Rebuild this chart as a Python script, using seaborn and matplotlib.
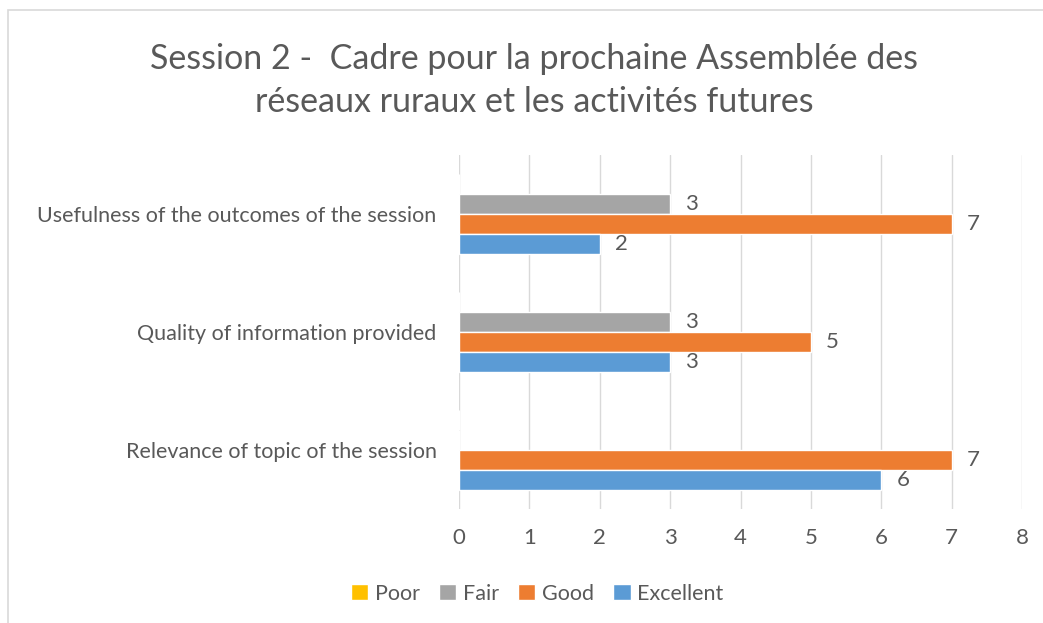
import numpy as np
import pandas as pd
import matplotlib
matplotlib.use("Agg")
import matplotlib.pyplot as plt
import seaborn as sns
from matplotlib.patches import Rectangle

# data
questions = ["Usefulness of the outcomes of the session",
             "Quality of information provided",
             "Relevance of topic of the session"]
ratings = ["Poor", "Fair", "Good", "Excellent"]
poor = [0, 0, 0]
fair = [3, 3, 0]
good = [7, 5, 7]
excellent = [2, 3, 6]
xticks = [0, 1, 2, 3, 4, 5, 6, 7, 8]

colors = {"Poor": "#FFC000", "Fair": "#A5A5A5", "Good": "#ED7D31", "Excellent": "#5B9BD5"}
text_col = "#595959"

rows = []
for series, vals in zip(ratings, [poor, fair, good, excellent]):
    for q, v in zip(questions, vals):
        rows.append({"question": q, "rating": series, "count": v})
df = pd.DataFrame(rows)

sns.set_theme(style="white")
plt.rcParams["font.family"] = ["Lato", "DejaVu Sans"]

fig = plt.figure(figsize=(10.43, 6.23), dpi=100)
ax = fig.add_axes([0.440, 0.183, 0.540, 0.568])

sns.barplot(data=df, y="question", x="count", hue="rating", order=questions,
            hue_order=ratings, palette=colors, orient="h", width=0.68,
            saturation=1, ax=ax, legend=True)

for cont in ax.containers:
    labels = [f"{int(b.get_width())}" if b.get_width() > 0 else "" for b in cont]
    ax.bar_label(cont, labels=labels, padding=11, fontsize=16, color=text_col)

ax.set_xlim(0, 8)
ax.set_xticks(xticks)
ax.set_xlabel("")
ax.set_ylabel("")
ax.grid(axis="x", color="#D9D9D9", linewidth=1)
ax.set_axisbelow(True)
for s in ax.spines.values():
    s.set_visible(False)
ax.tick_params(axis="x", labelsize=16, labelcolor=text_col, pad=14, length=0)
ax.tick_params(axis="y", labelsize=15.5, labelcolor=text_col, pad=16, length=0)

handles, labs = ax.get_legend_handles_labels()
ax.legend_.remove()
fig.legend(handles, labs, loc="center", bbox_to_anchor=(0.515, 0.047), ncol=4,
           frameon=False, fontsize=15.5, handlelength=0.8, handleheight=0.8,
           handletextpad=0.3, columnspacing=0.9, labelcolor=text_col)

fig.text(0.512, 0.906, "Session 2 -  Cadre pour la prochaine Assemblée des",
         ha="center", va="center", fontsize=24.5, color=text_col)
fig.text(0.512, 0.836, "réseaux ruraux et les activités futures",
         ha="center", va="center", fontsize=24.5, color=text_col)

fig.patches.append(Rectangle((8 / 1043, -0.1), 1.2, 1.1 - 10 / 623,
                             transform=fig.transFigure, fill=False,
                             edgecolor="#D9D9D9", linewidth=1.2))

fig.savefig("out.png", dpi=100)
